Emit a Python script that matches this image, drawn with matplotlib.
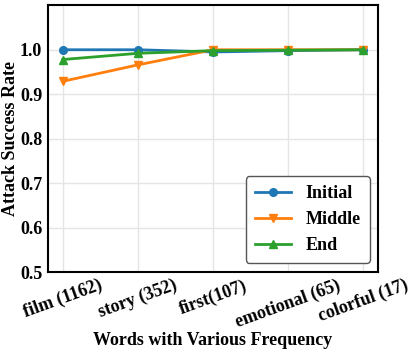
import matplotlib
matplotlib.use("Agg")
import matplotlib.pyplot as plt

words = ["film (1162)", "story (352)", "first(107)", "emotional (65)", "colorful (17)"]
initial = [1.0, 1.0, 0.995, 0.998, 1.0]
middle = [0.929, 0.966, 1.0, 1.0, 1.0]
end = [0.978, 0.992, 0.998, 0.999, 1.0]

plt.rcParams['font.family'] = ['Liberation Serif', 'DejaVu Serif']
plt.rcParams['font.weight'] = 'bold'

fig, ax = plt.subplots(figsize=(4.15, 3.52), dpi=100)
x = list(range(len(words)))
ax.plot(x, initial, marker='o', color='#1f77b4', linewidth=2, markersize=5.5, label='Initial')
ax.plot(x, middle, marker='v', color='#ff7f0e', linewidth=2, markersize=5.5, label='Middle')
ax.plot(x, end, marker='^', color='#2ca02c', linewidth=2, markersize=5.5, label='End')

ax.set_xlim(-0.2, 4.2)
ax.set_ylim(0.5, 1.1)
ax.set_yticks([0.5, 0.6, 0.7, 0.8, 0.9, 1.0])
ax.set_xticks(x)
ax.set_xticklabels(words, rotation=20, ha='center', fontsize=13, fontweight='bold')
ax.tick_params(axis='y', labelsize=13, length=0, pad=4)
ax.tick_params(axis='x', length=0)
ax.grid(True, color='#e5e5e5', linewidth=1)
ax.set_axisbelow(True)
for s in ax.spines.values():
    s.set_linewidth(1.5)

ax.set_xlabel('Words with Various Frequency', fontsize=13, fontweight='bold', labelpad=1)
ax.set_ylabel('Attack Success Rate', fontsize=13, fontweight='bold', labelpad=1)
leg = ax.legend(loc='lower right', bbox_to_anchor=(0.973, 0.034),
                prop={'size': 13, 'weight': 'bold'}, framealpha=1,
                edgecolor='#555555', handlelength=2.0, borderpad=0.5, labelspacing=0.5,
                borderaxespad=0)

fig.subplots_adjust(left=0.115, right=0.912, top=0.985, bottom=0.227)
fig.savefig('out.png', dpi=100)
